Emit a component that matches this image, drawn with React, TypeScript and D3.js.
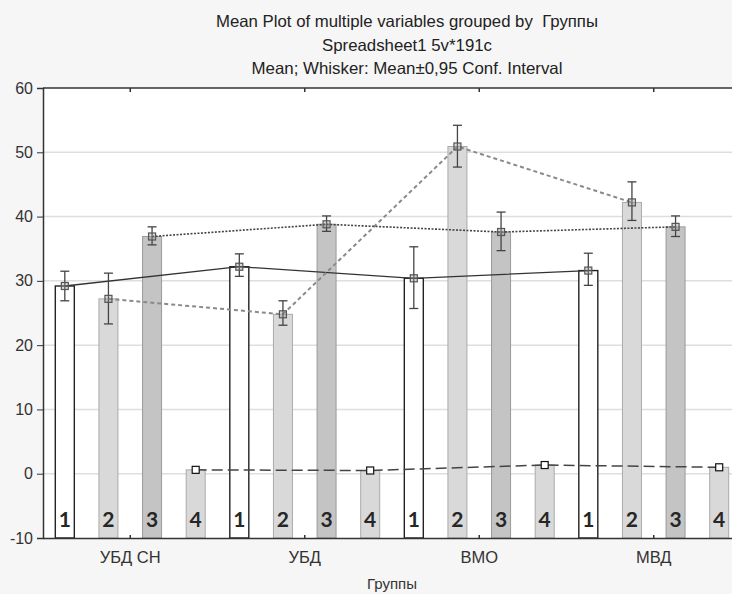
import React, { useEffect, useRef } from "react";
import * as d3 from "d3";

const groups = ["УБД СН", "УБД", "ВМО", "МВД"];
const seriesIds = ["1", "2", "3", "4"];
// means per series, one value per group
const means1 = [29.2, 32.2, 30.4, 31.6];
const means2 = [27.2, 24.8, 50.9, 42.2];
const means3 = [36.9, 38.8, 37.6, 38.4];
const means4 = [0.6, 0.5, 1.35, 1.0];
// 0.95 confidence interval bounds
const lo1 = [26.9, 30.7, 25.7, 29.3];
const hi1 = [31.5, 34.2, 35.3, 34.3];
const lo2 = [23.3, 23.1, 47.7, 39.4];
const hi2 = [31.2, 26.9, 54.2, 45.4];
const lo3 = [35.6, 37.7, 34.7, 36.9];
const hi3 = [38.4, 40.1, 40.7, 40.1];
const lo4 = [0.4, 0.3, 1.1, 0.8];
const hi4 = [0.8, 0.7, 1.6, 1.2];
const yTicks = [-10, 0, 10, 20, 30, 40, 50, 60];

const titleLines = [
  "Mean Plot of multiple variables grouped by  Группы",
  "Spreadsheet1 5v*191c",
  "Mean; Whisker: Mean±0,95 Conf. Interval",
];
const titleWidths = [382, 170, 311];

const App = () => {
  const svgRef = useRef<SVGSVGElement>(null);

  useEffect(() => {
    const width = 732;
    const height = 594;
    const margin = { top: 88, right: -9, bottom: 56, left: 43 };

    const svg = d3.select(svgRef.current);
    svg.selectAll("*").remove();
    svg.attr("width", width).attr("height", height);

    const means = [means1, means2, means3, means4];
    const los = [lo1, lo2, lo3, lo4];
    const his = [hi1, hi2, hi3, hi4];

    const x0 = d3.scaleBand()
      .domain(groups)
      .range([margin.left, width - margin.right])
      .padding(0);
    const x1 = d3.scaleBand()
      .domain(seriesIds)
      .range([0, x0.bandwidth()])
      .padding(0);
    const barW = 19;
    const cx = (gi: number, si: number) =>
      x0(groups[gi])! + x1(seriesIds[si])! + x1.bandwidth() / 2;

    const y = d3.scaleLinear()
      .domain([-10, 60])
      .range([height - margin.bottom, margin.top]);

    // background
    svg.append("rect").attr("width", width).attr("height", height).attr("fill", "#f6f6f6");
    svg.append("rect")
      .attr("x", margin.left).attr("y", margin.top)
      .attr("width", width - margin.right - margin.left)
      .attr("height", y(-10) - y(60))
      .attr("fill", "#fff");

    // gridlines
    svg.append("g")
      .selectAll("line")
      .data(yTicks.filter(t => t > -10 && t < 60))
      .join("line")
      .attr("x1", margin.left).attr("x2", width)
      .attr("y1", d => y(d)).attr("y2", d => y(d))
      .attr("stroke", "#dedede").attr("stroke-width", 1.5);

    // bars
    const fills = ["#ffffff", "#d9d9d9", "#c4c4c4", "#d9d9d9"];
    const strokes = ["#222", "#aaa", "#9a9a9a", "#aaa"];
    means.forEach((vals, si) => {
      svg.append("g")
        .selectAll("rect")
        .data(vals)
        .join("rect")
        .attr("x", (d, gi) => cx(gi, si) - barW / 2)
        .attr("y", d => y(d))
        .attr("width", barW)
        .attr("height", d => y(-10) - y(d))
        .attr("fill", fills[si])
        .attr("stroke", strokes[si])
        .attr("stroke-width", si === 0 ? 1.4 : 1);
    });

    // lines connecting means
    const lineStyles = [
      { stroke: "#333", dash: null, w: 1.3 },
      { stroke: "#8a8a8a", dash: "4,3", w: 2 },
      { stroke: "#444", dash: "2,1.5", w: 1.6 },
      { stroke: "#444", dash: "11,5", w: 1.5 },
    ];
    means.forEach((vals, si) => {
      const line = d3.line<number>()
        .x((d, gi) => cx(gi, si))
        .y(d => y(d));
      svg.append("path")
        .datum(vals)
        .attr("d", line)
        .attr("fill", "none")
        .attr("stroke", lineStyles[si].stroke)
        .attr("stroke-width", lineStyles[si].w)
        .attr("stroke-dasharray", lineStyles[si].dash);
    });

    // whiskers
    means.forEach((vals, si) => {
      if (si === 3) return;
      const g = svg.append("g").attr("stroke", "#444").attr("stroke-width", 1.3);
      vals.forEach((v, gi) => {
        const c = cx(gi, si);
        g.append("line").attr("x1", c).attr("x2", c)
          .attr("y1", y(los[si][gi])).attr("y2", y(his[si][gi]));
        [los[si][gi], his[si][gi]].forEach(b => {
          g.append("line").attr("x1", c - 4.5).attr("x2", c + 4.5)
            .attr("y1", y(b)).attr("y2", y(b));
        });
      });
    });

    // markers
    means.forEach((vals, si) => {
      svg.append("g")
        .selectAll("rect")
        .data(vals)
        .join("rect")
        .attr("x", (d, gi) => cx(gi, si) - 3.5)
        .attr("y", d => y(d) - 3.5)
        .attr("width", 7).attr("height", 7)
        .attr("fill", si === 3 ? "#fff" : "rgba(150,150,150,0.35)")
        .attr("stroke", si === 3 ? "#111" : "#555")
        .attr("stroke-width", 1.2);
    });

    // series numbers inside bars
    means.forEach((vals, si) => {
      svg.append("g")
        .selectAll("text")
        .data(vals)
        .join("text")
        .attr("x", (d, gi) => cx(gi, si))
        .attr("y", y(-10) - 11)
        .attr("text-anchor", "middle")
        .style("font-family", "Lato, 'Noto Sans', sans-serif")
        .style("font-weight", "bold")
        .style("font-size", "21px")
        .attr("fill", "#262626")
        .text(seriesIds[si]);
    });

    // frame
    svg.append("line")
      .attr("x1", margin.left).attr("x2", width)
      .attr("y1", margin.top).attr("y2", margin.top)
      .attr("stroke", "#333").attr("stroke-width", 1.5);

    // axes
    const xAxisB = svg.append("g")
      .attr("transform", `translate(0,${y(-10)})`)
      .call(d3.axisBottom(x0).tickSize(0).tickPadding(13));
    xAxisB.select(".domain").attr("stroke", "#333").attr("stroke-width", 1.5);
    xAxisB.selectAll("text")
      .style("font-family", "'Liberation Sans', Arial, sans-serif")
      .style("font-size", "16.5px")
      .attr("fill", "#333");
    // small center ticks pointing inward
    svg.append("g")
      .selectAll("line")
      .data(groups)
      .join("line")
      .attr("x1", d => x0(d)! + x0.bandwidth() / 2)
      .attr("x2", d => x0(d)! + x0.bandwidth() / 2)
      .attr("y1", y(-10)).attr("y2", y(-10) - 3)
      .attr("stroke", "#333").attr("stroke-width", 1.5);
    svg.append("g")
      .selectAll("line")
      .data(groups)
      .join("line")
      .attr("x1", d => x0(d)! + x0.bandwidth() / 2)
      .attr("x2", d => x0(d)! + x0.bandwidth() / 2)
      .attr("y1", margin.top).attr("y2", margin.top + 4)
      .attr("stroke", "#333").attr("stroke-width", 1.5);

    const yAxis = svg.append("g")
      .attr("transform", `translate(${margin.left},0)`)
      .call(d3.axisLeft(y).tickValues(yTicks).tickFormat(d => String(d)).tickSize(6).tickPadding(4));
    yAxis.select(".domain").attr("stroke", "#333").attr("stroke-width", 1.5);
    yAxis.selectAll(".tick line").attr("stroke", "#333");
    yAxis.selectAll("text")
      .style("font-family", "'Liberation Sans', Arial, sans-serif")
      .style("font-size", "16px")
      .attr("fill", "#333");

    // x label
    svg.append("text")
      .attr("x", 392)
      .attr("y", 589)
      .attr("text-anchor", "middle")
      .style("font-family", "'Liberation Sans', Arial, sans-serif")
      .style("font-size", "15px")
      .attr("fill", "#333")
      .text("Группы");

    // title
    svg.append("g")
      .selectAll("text")
      .data(titleLines)
      .join("text")
      .attr("x", 407)
      .attr("y", (d, i) => 27 + i * 23.5)
      .attr("text-anchor", "middle")
      .attr("textLength", (d, i) => titleWidths[i])
      .attr("lengthAdjust", "spacingAndGlyphs")
      .style("white-space", "pre")
      .style("font-family", "'Liberation Sans', Arial, sans-serif")
      .style("font-size", "16.5px")
      .attr("fill", "#222")
      .text(d => d);
  }, []);

  return (
    <div style={{ position: "absolute", left: 0, top: 0 }}>
      <svg ref={svgRef}></svg>
    </div>
  );
};

export default App;
